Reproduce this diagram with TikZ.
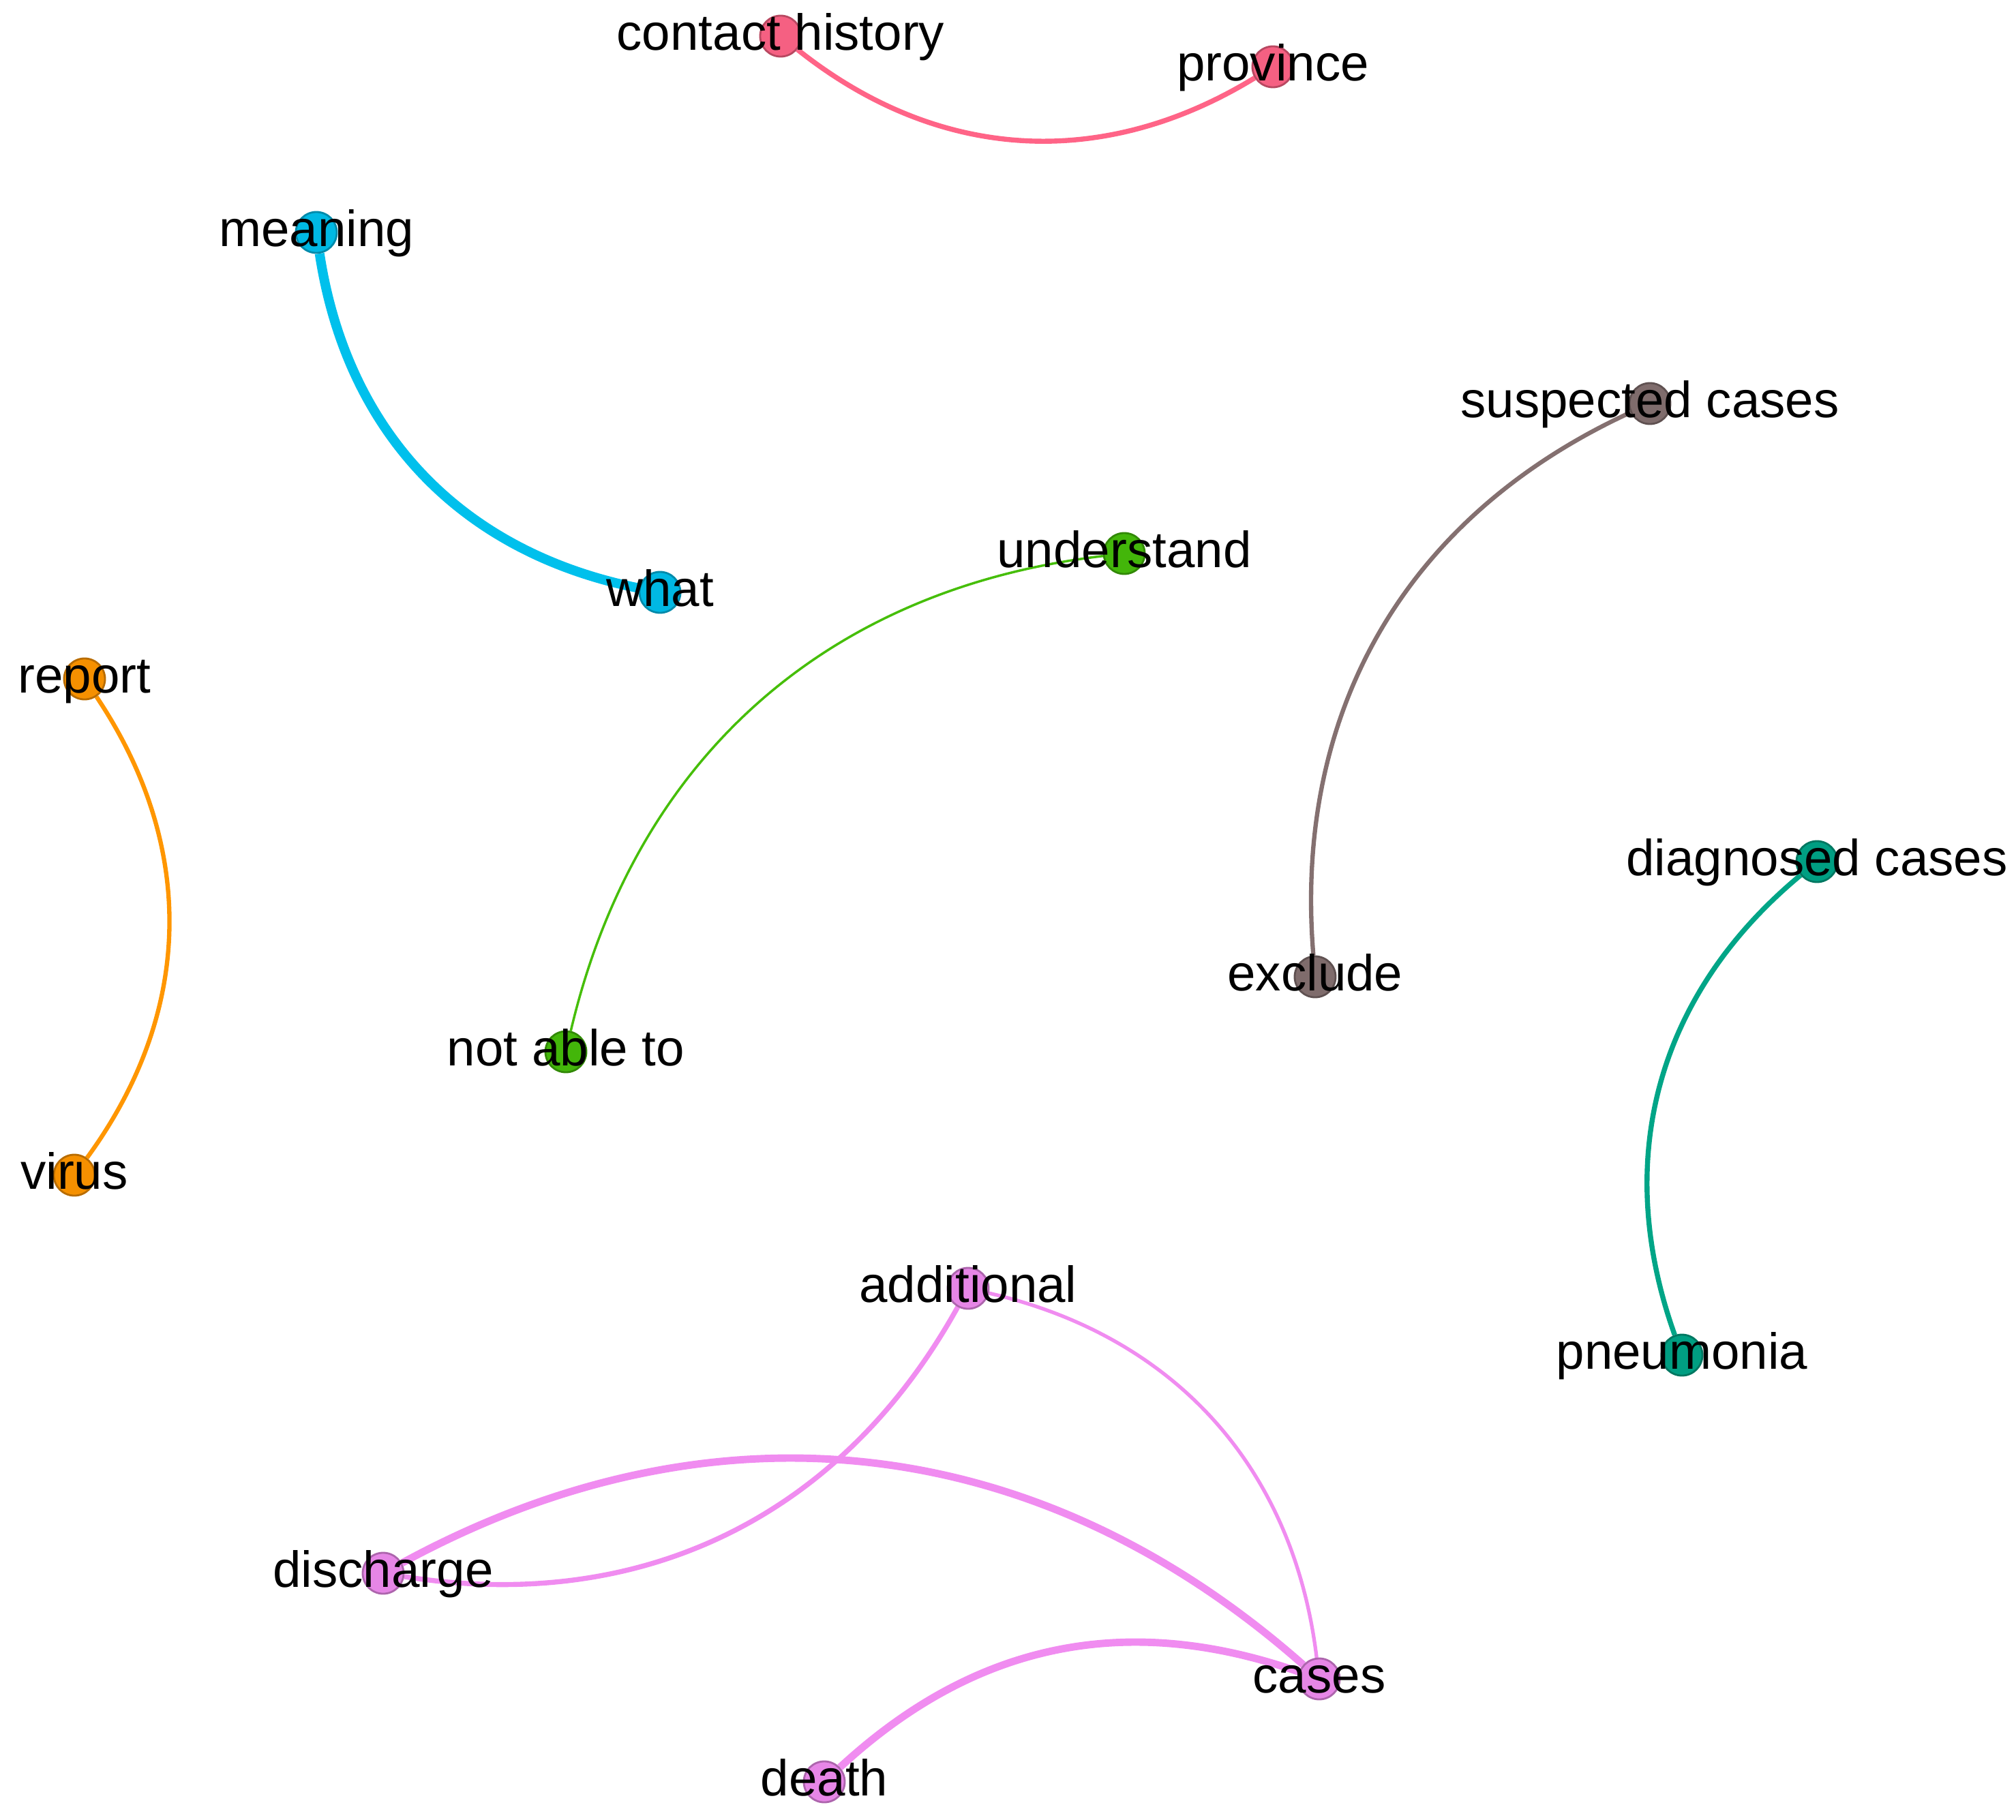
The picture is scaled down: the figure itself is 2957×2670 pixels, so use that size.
\documentclass[tikz,border=0pt]{standalone}
\usepackage{fontspec}
\setmainfont{Liberation Sans}
\usetikzlibrary{backgrounds}

\definecolor{rosec}{RGB}{255,100,135}
\definecolor{skyc}{RGB}{0,192,236}
\definecolor{orangec}{RGB}{255,150,0}
\definecolor{grassc}{RGB}{70,190,10}
\definecolor{mudc}{RGB}{132,112,112}
\definecolor{tealc}{RGB}{0,165,135}
\definecolor{orchidc}{RGB}{240,140,240}

\tikzset{
  dot/.style={circle, minimum size=0.6cm, inner sep=0pt, fill=#1!96!black, draw=#1!72!black, line width=0.8pt},
  word/.style={font=\fontsize{21.2}{25}\selectfont, inner sep=0pt, anchor=base, yshift=-0.2cm},
  link/.style={draw=#1, bend right=35}
}

\begin{document}
\begin{tikzpicture}[x=0.01cm,y=0.01cm]
\useasboundingbox (0,0) rectangle (2957,-2670);

\node[dot=rosec] (contact) at (1145,-53) {};
\node[dot=rosec] (province) at (1867,-98) {};
\node[dot=skyc] (meaning) at (464,-341) {};
\node[dot=skyc] (what) at (968,-869) {};
\node[dot=grassc] (understand) at (1649,-812) {};
\node[dot=grassc] (notable) at (830,-1543) {};
\node[dot=mudc] (suspected) at (2420,-592) {};
\node[dot=mudc] (exclude) at (1929,-1433) {};
\node[dot=orangec] (report) at (124,-996) {};
\node[dot=orangec] (virus) at (109,-1724) {};
\node[dot=tealc] (diagnosed) at (2665,-1264) {};
\node[dot=tealc] (pneumonia) at (2467,-1988) {};
\node[dot=orchidc] (additional) at (1420,-1890) {};
\node[dot=orchidc] (discharge) at (562,-2308) {};
\node[dot=orchidc] (cases) at (1935,-2463) {};
\node[dot=orchidc] (death) at (1209,-2614) {};

\begin{scope}[on background layer]
\draw[link=rosec, line width=2.1pt] (contact) to (province);
\draw[link=skyc, line width=4pt] (meaning) to (what);
\draw[link=grassc, line width=1pt] (understand) to (notable);
\draw[link=mudc, line width=1.8pt] (suspected) to (exclude);
\draw[link=orangec, line width=1.8pt] (virus) to (report);
\draw[link=tealc, line width=2.1pt] (diagnosed) to (pneumonia);
\draw[link=orchidc, line width=2.1pt] (discharge) to (additional);
\draw[link=orchidc, line width=3.1pt] (cases) to (discharge);
\draw[link=orchidc, line width=1.5pt] (cases) to (additional);
\draw[link=orchidc, line width=3.1pt, bend right=31] (cases) to (death);
\end{scope}

\node[word] at (contact) {contact history};
\node[word] at (province) {province};
\node[word] at (meaning) {meaning};
\node[word] at (what) {what};
\node[word] at (understand) {understand};
\node[word] at (notable) {not able to};
\node[word] at (suspected) {suspected cases};
\node[word] at (exclude) {exclude};
\node[word] at (report) {report};
\node[word] at (virus) {virus};
\node[word] at (diagnosed) {diagnosed cases};
\node[word] at (pneumonia) {pneumonia};
\node[word] at (additional) {additional};
\node[word] at (discharge) {discharge};
\node[word] at (cases) {cases};
\node[word] at (death) {death};
\end{tikzpicture}
\end{document}
